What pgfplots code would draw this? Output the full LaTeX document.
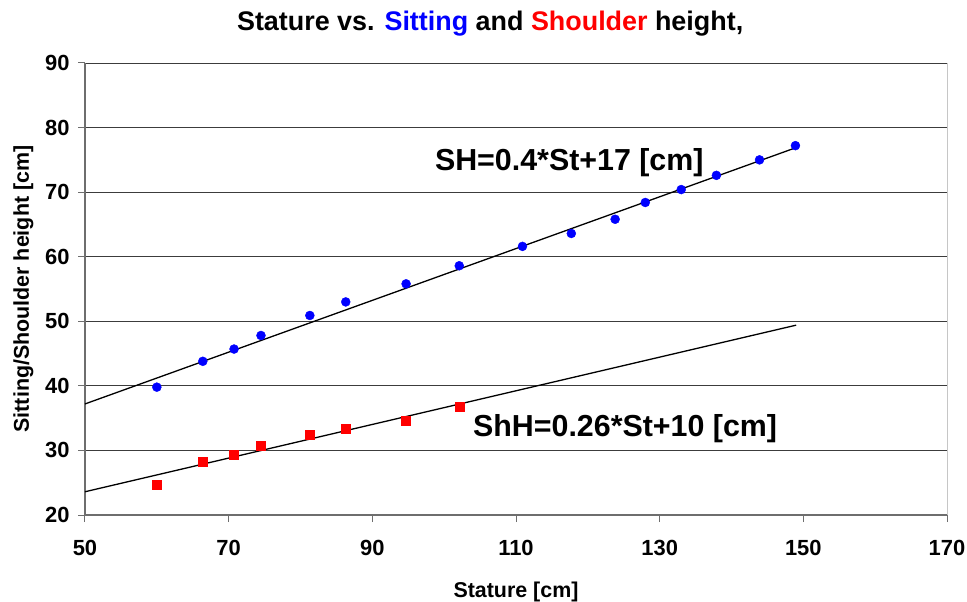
\documentclass[border=0pt]{standalone}
\usepackage{fontspec}
\setmainfont{Liberation Sans}
\usepackage{pgfplots}
\pgfplotsset{compat=1.18}
\definecolor{axgray}{RGB}{110,110,110}
\definecolor{gridc}{RGB}{60,60,60}
\begin{document}
\begin{tikzpicture}
\begin{axis}[
  scale only axis,
  width=862bp, height=452bp,
  xmin=50, xmax=170, ymin=20, ymax=90,
  xtick={50,70,...,170}, ytick={20,30,...,90},
  xtick pos=bottom, ytick pos=left,
  tick align=outside, major tick length=7bp,
  tick style={axgray, line width=1bp},
  axis line style={draw=none},
  ymajorgrids, major grid style={gridc, line width=0.8bp},
  /pgf/number format/assume math mode=true,
  ticklabel style={font=\fontsize{22}{26}\selectfont\bfseries},
  xticklabel style={yshift=-15bp},
  yticklabel style={xshift=-5bp},
  xlabel={Stature [cm]},
  ylabel={Sitting/Shoulder height [cm]},
  label style={font=\fontsize{21.5}{26}\selectfont\bfseries},
  xlabel style={at={(axis description cs:0.5,0)}, anchor=base, yshift=-82bp},
  ylabel style={at={(axis description cs:-0.065,0.5)}, anchor=base, rotate=0},
  title={Stature vs. \textcolor{blue}{Sitting} and \textcolor{red}{Shoulder} height,},
  title style={font=\fontsize{27}{32}\selectfont\bfseries, at={(axis description cs:0.47,1)}, anchor=base, yshift=27bp},
  clip=false,
]
% decorative axis frame
\draw[axgray, line width=1.6bp] (rel axis cs:0,1) -- (rel axis cs:0,0) -- (rel axis cs:1,0);
\draw[gray!45, line width=0.8bp] (rel axis cs:1,0) -- (rel axis cs:1,1);
% fit lines
\addplot[black, line width=1.3bp] coordinates {(50,37.2) (149,76.9)};
\addplot[black, line width=1.3bp] coordinates {(50,23.6) (149,49.4)};
% sitting height
\addplot[only marks, mark=*, mark size=4.5bp, blue, mark options={draw=blue, fill=blue}] coordinates {
(60,39.8) (66.4,43.8) (70.75,45.7) (74.5,47.8) (81.3,50.9) (86.3,53.0) (94.7,55.8)
(102.1,58.6) (110.9,61.6) (117.7,63.6) (123.8,65.8) (128.0,68.4) (133.0,70.4)
(137.9,72.6) (143.9,75.0) (148.9,77.2)};
% shoulder height
\addplot[only marks, mark=square*, mark size=4.5bp, red, mark options={draw=red, fill=red}] coordinates {
(60,24.7) (66.4,28.3) (70.75,29.3) (74.5,30.8) (81.3,32.4) (86.3,33.4) (94.7,34.6) (102.1,36.7)};
\node[anchor=base west, font=\fontsize{30.5}{36}\selectfont\bfseries, inner sep=0pt] at (axis cs:98.7,73.4) {SH=0.4*St+17 [cm]};
\node[anchor=base west, font=\fontsize{30.5}{36}\selectfont\bfseries, inner sep=0pt] at (axis cs:104.0,32.1) {ShH=0.26*St+10 [cm]};
\end{axis}
\pgfresetboundingbox
\path[use as bounding box] (-85bp,-87bp) rectangle (882bp,515bp);
\end{tikzpicture}
\end{document}
